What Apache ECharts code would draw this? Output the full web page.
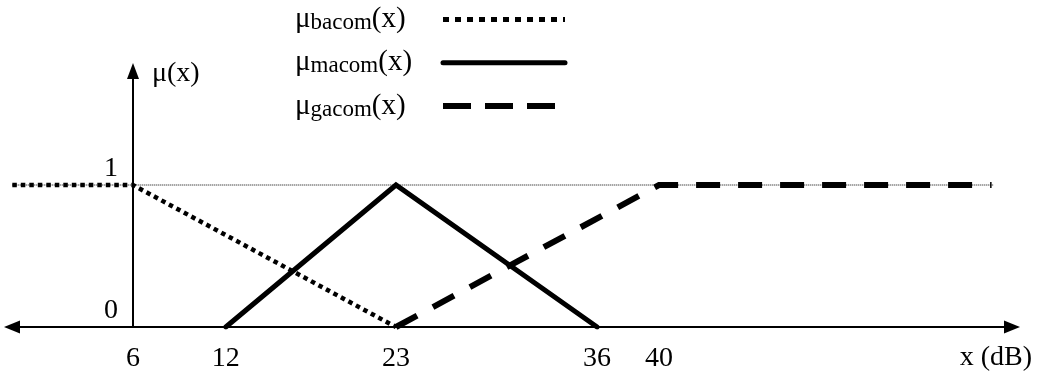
<!DOCTYPE html>
<html>
<head>
<meta charset="utf-8">
<script src="https://cdn.jsdelivr.net/npm/echarts@6/dist/echarts.min.js"></script>
<style>
  html, body { margin: 0; padding: 0; background: #fff; }
  #chart { width: 1038px; height: 377px; }
</style>
</head>
<body>
<div id="chart"></div>
<script>
// ---- data ----
const xTickValues = [6, 12, 23, 36, 40];
const yTickValues = [0, 1];
const seriesNames = ['bacom', 'macom', 'gacom'];
const bacomX = [-1.8, 6, 23];
const bacomY = [1, 1, 0];
const macomX = [12, 23, 36];
const macomY = [0, 1, 0];
const gacomX = [23, 40, 61.5];
const gacomY = [0, 1, 1];
const refLineX = [-1.8, 61.6];
const refLineY = [1, 1];
const yAxisAtX = 6;
const xAxisName = 'x (dB)';
const yAxisName = 'μ(x)';

function pairs(xs, ys) { return xs.map((x, i) => [x, ys[i]]); }

const FONT = 'Liberation Serif';
const chart = echarts.init(document.getElementById('chart'), null, { renderer: 'canvas' });

const option = {
  animation: false,
  backgroundColor: '#fff',
  grid: { left: 12, right: 26, top: 71, bottom: 50, containLabel: false, outerBoundsMode: 'none' },
  xAxis: {
    type: 'value',
    min: -1.82,
    max: 62.82,
    splitLine: { show: false },
    axisTick: { show: false },
    axisLine: {
      show: true, onZero: false,
      symbol: ['triangle', 'triangle'],
      symbolSize: [13, 16],
      lineStyle: { color: '#000', width: 2 }
    },
    axisLabel: {
      customValues: xTickValues,
      color: '#000', fontFamily: FONT, fontSize: 28,
      margin: 18
    },
    name: xAxisName,
    nameLocation: 'end',
    nameGap: 20,
    nameTextStyle: {
      color: '#000', fontFamily: FONT, fontSize: 28,
      align: 'right', verticalAlign: 'top',
      lineHeight: 62
    }
  },
  yAxis: {
    type: 'value',
    min: 0,
    max: 1.803,
    position: 'left',
    offset: -121,
    splitLine: { show: false },
    axisTick: { show: false },
    axisLine: {
      show: true, onZero: false,
      symbol: ['none', 'triangle'],
      symbolSize: [12, 16],
      lineStyle: { color: '#000', width: 2 }
    },
    axisLabel: {
      customValues: yTickValues,
      color: '#000', fontFamily: FONT, fontSize: 28,
      margin: 15,
      verticalAlign: 'bottom',
      padding: [0, 0, 2, 0]
    },
    name: yAxisName,
    nameLocation: 'end',
    nameGap: -3,
    nameTextStyle: {
      color: '#000', fontFamily: FONT, fontSize: 28,
      align: 'left', verticalAlign: 'middle',
      padding: [0, 0, 0, 19]
    }
  },
  legend: {
    orient: 'vertical',
    left: 295,
    top: 5,
    padding: 0,
    align: 'right',
    itemWidth: 122,
    itemHeight: 14,
    itemGap: 13.75,
    selectedMode: false,
    itemStyle: { opacity: 0 },
    data: [
      { name: seriesNames[0], lineStyle: { width: 5, type: [6, 6], cap: 'butt' } },
      { name: seriesNames[1], lineStyle: { width: 5, cap: 'round' } },
      { name: seriesNames[2], lineStyle: { width: 6, type: [28, 14], cap: 'butt' } }
    ],
    formatter: function (name) { return '{m|μ}{s|' + name + '}{m|(x)}'; },
    textStyle: {
      width: 143,
      color: '#000',
      fontFamily: FONT,
      rich: {
        m: { fontFamily: FONT, fontSize: 29, lineHeight: 30, align: 'left', color: '#000' },
        s: { fontFamily: FONT, fontSize: 23, lineHeight: 26, align: 'left', verticalAlign: 'bottom', color: '#000' }
      }
    }
  },
  series: [
    {
      name: 'ref',
      type: 'line',
      data: pairs(refLineX, refLineY),
      symbol: 'none',
      silent: true,
      z: 1,
      lineStyle: { color: '#000', width: 1, type: 'dotted' }
    },
    {
      name: seriesNames[0],
      type: 'line',
      data: pairs(bacomX, bacomY),
      symbol: 'none',
      z: 3,
      lineStyle: { color: '#000', width: 4.5, type: [4.5, 4], cap: 'butt', join: 'miter' }
    },
    {
      name: seriesNames[1],
      type: 'line',
      data: pairs(macomX, macomY),
      symbol: 'none',
      z: 3,
      lineStyle: { color: '#000', width: 5, cap: 'round', join: 'miter' }
    },
    {
      name: seriesNames[2],
      type: 'line',
      data: pairs(gacomX, gacomY),
      symbol: 'none',
      z: 3,
      lineStyle: { color: '#000', width: 6, type: [24, 18], cap: 'butt', join: 'miter' }
    }
  ]
};

chart.setOption(option);

// place the vertical axis at x = yAxisAtX using the x axis' own scale
const px = chart.convertToPixel({ xAxisIndex: 0 }, yAxisAtX);
const gridLeft = option.grid.left;
chart.setOption({ yAxis: { offset: -(px - gridLeft) } });
</script>
</body>
</html>
